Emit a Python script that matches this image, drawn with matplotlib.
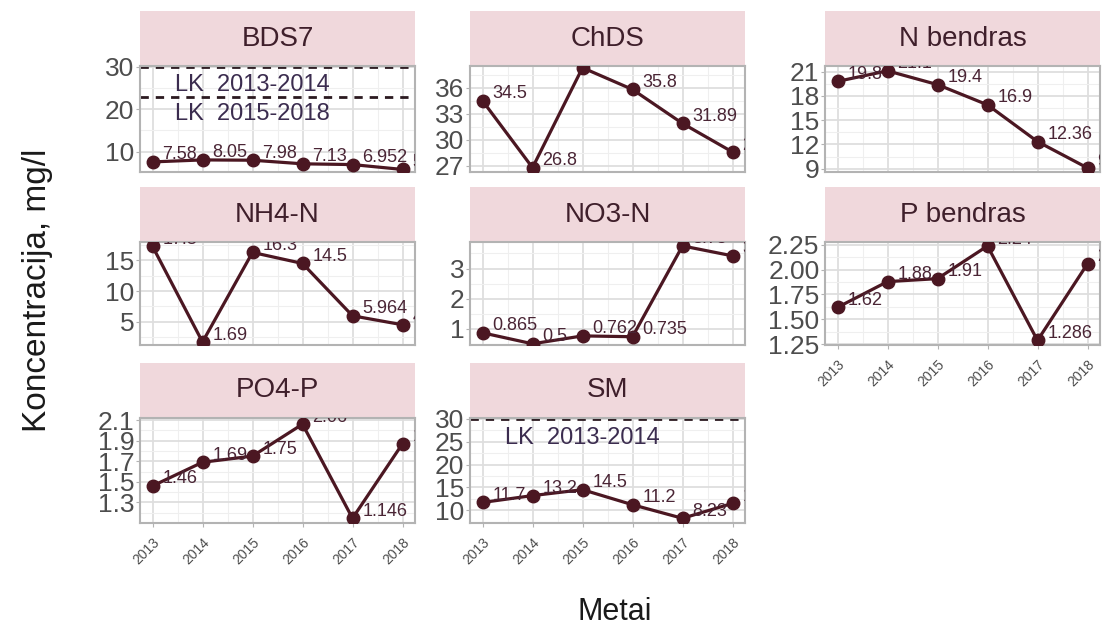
import matplotlib
matplotlib.use("Agg")
import matplotlib.pyplot as plt
import matplotlib.transforms as mtransforms

plt.rcParams['font.family'] = ['Liberation Sans', 'DejaVu Sans']

# ---- data -------------------------------------------------------------
years = [2013, 2014, 2015, 2016, 2017, 2018]
panel_names = ['BDS7', 'ChDS', 'N bendras', 'NH4-N', 'NO3-N',
               'P bendras', 'PO4-P', 'SM']

bds7 = [7.58, 8.05, 7.98, 7.13, 6.952, 5.8]
chds = [34.5, 26.8, 38.3, 35.8, 31.89, 28.6]
n_bendras = [19.8, 21.1, 19.4, 16.9, 12.36, 9.1]
nh4_n = [17.3, 1.69, 16.3, 14.5, 5.964, 4.5]
no3_n = [0.865, 0.5, 0.762, 0.735, 3.75, 3.42]
p_bendras = [1.62, 1.88, 1.91, 2.24, 1.286, 2.06]
po4_p = [1.46, 1.69, 1.75, 2.06, 1.146, 1.87]
sm = [11.7, 13.2, 14.5, 11.2, 8.23, 11.5]

series = [bds7, chds, n_bendras, nh4_n, no3_n, p_bendras, po4_p, sm]

# permitted concentration limits (LK) and their captions
lk_values = {'BDS7': [30, 23], 'SM': [30]}
lk_labels = {'BDS7': ['LK  2013-2014', 'LK  2015-2018'],
             'SM': ['LK  2013-2014']}

y_ticks = {
    'BDS7': [10, 20, 30],
    'ChDS': [27, 30, 33, 36],
    'N bendras': [9, 12, 15, 18, 21],
    'NH4-N': [5, 10, 15],
    'NO3-N': [1, 2, 3],
    'P bendras': [1.25, 1.50, 1.75, 2.00, 2.25],
    'PO4-P': [1.3, 1.5, 1.7, 1.9, 2.1],
    'SM': [10, 15, 20, 25, 30],
}
y_limits = {
    'BDS7': (5.2, 30.2),
    'ChDS': (26.3, 38.5),
    'N bendras': (8.6, 21.7),
    'NH4-N': (1.2, 18.0),
    'NO3-N': (0.46, 3.88),
    'P bendras': (1.24, 2.28),
    'PO4-P': (1.10, 2.12),
    'SM': (7.2, 30.2),
}
y_fmt = {'P bendras': '{:.2f}', 'PO4-P': '{:.1f}'}

# ---- style ------------------------------------------------------------
W, H = 1105, 630
LINE_COL = '#4b1722'
LABEL_COL = '#4a2535'
LK_COL = '#3b2c4f'
STRIP_FILL = '#f0d8dc'
STRIP_TEXT = '#3f1f2b'
BORDER = '#b3b3b3'
GRID_MAJ = '#dedede'
GRID_MIN = '#efefef'
TICK_TXT = '#4d4d4d'

col_x = [(140, 415), (470, 745), (825, 1100)]
row_y = [((11, 66), (66, 172)),
         ((187, 242), (242, 345)),
         ((363, 418), (418, 523))]
bottom_panels = {'P bendras', 'PO4-P', 'SM'}


def rect(x0, y0, x1, y1):
    return [x0 / W, 1 - y1 / H, (x1 - x0) / W, (y1 - y0) / H]


fig = plt.figure(figsize=(W / 100, H / 100), dpi=100)
fig.patch.set_facecolor('white')

for i, (name, vals) in enumerate(zip(panel_names, series)):
    r, c = divmod(i, 3)
    (sy0, sy1), (py0, py1) = row_y[r]
    x0, x1 = col_x[c]

    # strip
    sax = fig.add_axes(rect(x0, sy0, x1, sy1))
    sax.set_facecolor(STRIP_FILL)
    sax.set_xticks([])
    sax.set_yticks([])
    for sp in sax.spines.values():
        sp.set_visible(False)
    sax.text(0.5, 0.5, name, ha='center', va='center', fontsize=20,
             color=STRIP_TEXT, transform=sax.transAxes)

    # panel
    ax = fig.add_axes(rect(x0, py0, x1, py1))
    ax.set_xlim(2012.75, 2018.25)
    lo, hi = y_limits[name]
    ax.set_ylim(lo, hi)

    ticks = y_ticks[name]
    step = ticks[1] - ticks[0]
    minor = [t + step / 2 for t in [ticks[0] - step] + ticks]
    minor = [m for m in minor if lo <= m <= hi]
    ax.set_yticks(ticks)
    fmt = y_fmt.get(name, '{:g}')
    ax.set_yticklabels([fmt.format(t) for t in ticks])
    ax.set_yticks(minor, minor=True)
    ax.set_xticks(years)
    ax.set_xticks([y + 0.5 for y in years[:-1]], minor=True)

    ax.grid(which='major', color=GRID_MAJ, lw=1.3, zorder=0)
    ax.grid(which='minor', color=GRID_MIN, lw=0.8, zorder=0)
    ax.set_axisbelow(True)
    for sp in ax.spines.values():
        sp.set_color(BORDER)
        sp.set_linewidth(1.5)

    ax.tick_params(axis='y', which='major', length=3, color=BORDER,
                   labelsize=19, labelcolor=TICK_TXT, pad=1)
    ax.tick_params(which='minor', length=0)
    if name in bottom_panels:
        ax.tick_params(axis='x', which='major', length=3, color=BORDER,
                       labelsize=10, labelcolor=TICK_TXT, pad=6)
        ax.set_xticklabels([str(y) for y in years], rotation=45,
                           ha='right', va='top', rotation_mode='anchor')
    else:
        ax.tick_params(axis='x', which='major', length=0, labelbottom=False)

    # limit lines
    for v, lab in zip(lk_values.get(name, []), lk_labels.get(name, [])):
        ax.axhline(v, color='#2b1a20', lw=2.0, ls=(0, (3, 2.5)), zorder=2)
        ax.text(2015, v - 4.2, lab, ha='center', va='center', fontsize=17,
                color=LK_COL, zorder=3, clip_on=True)

    ax.plot(years, vals, color=LINE_COL, lw=2.3, zorder=3, clip_on=True)
    ax.plot(years, vals, 'o', color=LINE_COL, ms=9, zorder=4, clip_on=True)

    off = mtransforms.offset_copy(ax.transData, fig=fig, x=7, y=5,
                                  units='points')
    for yr, v in zip(years, vals):
        ax.text(yr, v, f'{v:g}', transform=off, ha='left', va='center',
                fontsize=13, color=LABEL_COL, zorder=5, clip_on=True)

fig.text(38 / W, 1 - 290 / H, 'Koncentracija, mg/l', rotation=90,
         ha='center', va='center', fontsize=24, color='#1a1a1a')
fig.text(615 / W, 1 - 612 / H, 'Metai', ha='center', va='center',
         fontsize=22, color='#1a1a1a')

fig.savefig('out.png', dpi=100, facecolor='white')
